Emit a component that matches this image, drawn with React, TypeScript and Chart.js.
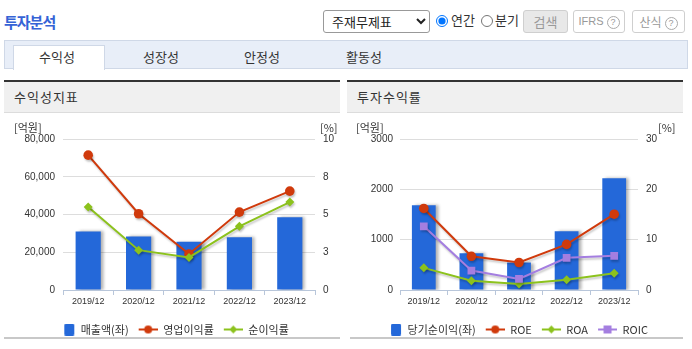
import React, { useEffect, useRef } from 'react';
import { Chart, registerables } from 'chart.js';

Chart.register(...registerables);

// ---- data ----
const years = ['2019/12', '2020/12', '2021/12', '2022/12', '2023/12'];
const sales = [31000, 28400, 25600, 27900, 38500];
const opMargin = [8.93, 5.05, 2.38, 5.16, 6.55];
const netMargin = [5.49, 2.64, 2.16, 4.22, 5.82];
const netIncome = [1686, 732, 546, 1166, 2220];
const roe = [16.2, 6.7, 5.46, 9.06, 15.06];
const roa = [4.4, 1.86, 1.2, 2.06, 3.32];
const roic = [12.66, 3.86, 2.2, 6.4, 6.8];

const salesTicks = ['0', '20,000', '40,000', '60,000', '80,000'];
const marginTicks = ['0', '3', '5', '8', '10'];
const incomeTicks = ['0', '1000', '2000', '3000'];
const returnTicks = ['0', '10', '20', '30'];

const tabs = ['수익성', '성장성', '안정성', '활동성'];

const BLUE = '#2468d9';
const RED = '#d03a0c';
const GREEN = '#8cc21d';
const PURPLE = '#a47ee0';
const KFONT = '"Noto Sans CJK KR", "Noto Sans", sans-serif';
const NFONT = '"Liberation Sans", Arial, sans-serif';

function markerImg(color: string, style: string): HTMLCanvasElement {
  const c = document.createElement('canvas');
  c.width = 20;
  c.height = 12;
  const x = c.getContext('2d')!;
  x.fillStyle = color;
  x.strokeStyle = color;
  if (style === 'bar') {
    x.beginPath();
    (x as any).roundRect(9, 0, 10, 12, 1.5);
    x.fill();
    return c;
  }
  x.lineWidth = 2;
  x.beginPath();
  x.moveTo(1, 6);
  x.lineTo(20, 6);
  x.stroke();
  x.beginPath();
  if (style === 'circle') {
    x.arc(10.5, 6, 4, 0, Math.PI * 2);
  } else if (style === 'diamond') {
    x.moveTo(10.5, 2);
    x.lineTo(14.5, 6);
    x.lineTo(10.5, 10);
    x.lineTo(6.5, 6);
    x.closePath();
  } else {
    x.rect(6.5, 2, 8, 8);
  }
  x.fill();
  return c;
}

const shadowPlugin = {
  id: 'shadowPlugin',
  beforeDatasetDraw(chart: any, args: any) {
    const ctx = chart.ctx;
    ctx.save();
    if (args.meta.type === 'bar') {
      ctx.shadowColor = 'rgba(0,0,0,0.3)';
      ctx.shadowBlur = 3;
      ctx.shadowOffsetX = 3;
      ctx.shadowOffsetY = 0;
    } else {
      ctx.shadowColor = 'rgba(0,0,0,0.22)';
      ctx.shadowBlur = 2;
      ctx.shadowOffsetX = 1;
      ctx.shadowOffsetY = 2;
    }
  },
  afterDatasetDraw(chart: any) {
    chart.ctx.restore();
  },
};

type LineDef = { label: string; data: number[]; color: string; style: string; order: number };

function makeConfig(
  barLabel: string,
  barData: number[],
  lines: LineDef[],
  leftMax: number,
  leftTicks: string[],
  rightMax: number,
  rightTicks: string[],
  leftWidth: number,
  rightWidth: number,
  leftPad: number
): any {
  const leftStep = leftMax / (leftTicks.length - 1);
  const rightStep = rightMax / (rightTicks.length - 1);
  const images: Record<string, HTMLCanvasElement> = {};
  images[barLabel] = markerImg(BLUE, 'bar');
  lines.forEach((l) => (images[l.label] = markerImg(l.color, l.style)));
  const ptStyle = (s: string) => (s === 'circle' ? 'circle' : s === 'diamond' ? 'rectRot' : 'rect');
  return {
    type: 'bar',
    data: {
      labels: years,
      datasets: [
        {
          type: 'bar',
          label: barLabel,
          data: barData,
          backgroundColor: BLUE,
          borderWidth: 0,
          barPercentage: 0.5,
          categoryPercentage: 1,
          yAxisID: 'y',
          order: 5,
        },
        ...lines.map((l) => ({
          type: 'line',
          label: l.label,
          data: l.data,
          borderColor: l.color,
          backgroundColor: l.color,
          borderWidth: 2,
          pointStyle: ptStyle(l.style),
          pointRadius: l.style === 'circle' ? 4.8 : l.style === 'diamond' ? 4.5 : 5.5,
          pointBorderWidth: 0,
          tension: 0,
          yAxisID: 'y1',
          order: l.order,
        })),
      ],
    },
    options: {
      animation: false,
      responsive: false,
      maintainAspectRatio: false,
      layout: { padding: { top: 26, left: 0, right: 0, bottom: 0 } },
      plugins: {
        tooltip: { enabled: false },
        legend: {
          position: 'bottom',
          labels: {
            usePointStyle: true,
            pointStyleWidth: 20,
            boxHeight: 12,
            padding: 9,
            color: '#333',
            font: { family: KFONT, size: 11 },
            generateLabels: (chart: any) =>
              chart.data.datasets.map((d: any, i: number) => ({
                text: d.label,
                pointStyle: images[d.label],
                fillStyle: 'transparent',
                strokeStyle: 'transparent',
                lineWidth: 0,
                fontColor: '#333',
                hidden: false,
                datasetIndex: i,
              })),
          },
        },
      },
      scales: {
        x: {
          offset: true,
          grid: {
            display: true,
            drawOnChartArea: false,
            drawTicks: true,
            tickLength: 5,
            color: '#b8c6da',
            offset: true,
          },
          border: { display: true, color: '#b8c6da', width: 1 },
          ticks: { color: '#333', font: { family: NFONT, size: 9 }, padding: 1, maxRotation: 0 },
          afterFit: (s: any) => {
            s.height = 25;
          },
        },
        y: {
          position: 'left',
          min: 0,
          max: leftMax,
          grid: { color: '#dddddd', drawTicks: false, lineWidth: 1 },
          border: { display: false },
          ticks: {
            stepSize: leftStep,
            padding: leftPad,
            color: '#333',
            font: { family: NFONT, size: 10 },
            callback: (v: number) => leftTicks[Math.round(v / leftStep)],
          },
          afterFit: (s: any) => {
            s.width = leftWidth;
          },
        },
        y1: {
          position: 'right',
          min: 0,
          max: rightMax,
          grid: { display: false, drawTicks: false },
          border: { display: false },
          ticks: {
            stepSize: rightStep,
            padding: 8,
            color: '#333',
            font: { family: NFONT, size: 10 },
            callback: (v: number) => rightTicks[Math.round(v / rightStep)],
          },
          afterFit: (s: any) => {
            s.width = rightWidth;
          },
        },
      },
    },
    plugins: [shadowPlugin],
  };
}

function ChartCanvas({ config, left }: { config: () => any; left: number }) {
  const ref = useRef<HTMLCanvasElement>(null);
  useEffect(() => {
    const chart = new Chart(ref.current!, config());
    return () => chart.destroy();
  }, []);
  return (
    <canvas
      ref={ref}
      width={336}
      height={232}
      style={{ position: 'absolute', left, top: 113, width: 336, height: 232 }}
    />
  );
}

const abs = (s: React.CSSProperties): React.CSSProperties => ({ position: 'absolute', ...s });

function QIcon() {
  return (
    <span
      style={{
        display: 'inline-block',
        width: 13,
        height: 13,
        borderRadius: 7,
        border: '1px solid #aaa',
        boxSizing: 'border-box',
        fontSize: 9,
        lineHeight: '11px',
        textAlign: 'center',
        color: '#999',
        marginLeft: 3,
        verticalAlign: 'middle',
        fontFamily: NFONT,
      }}
    >
      ?
    </span>
  );
}

function Panel({ left, title }: { left: number; title: string }) {
  return (
    <>
      <div style={abs({ left, top: 80, width: 336, height: 2, background: '#333' })} />
      <div
        style={abs({
          left,
          top: 82,
          width: 336,
          height: 30,
          background: '#f0f0f0',
          borderBottom: '1px solid #dcdcdc',
        })}
      />
      <div
        style={abs({
          left: left + 10,
          top: 88,
          fontSize: 13,
          lineHeight: '18px',
          color: '#333',
          fontFamily: KFONT,
          letterSpacing: 1,
        })}
      >
        {title}
      </div>
    </>
  );
}

export default function App() {
  const leftCfg = () =>
    makeConfig(
      '매출액(좌)',
      sales,
      [
        { label: '영업이익률', data: opMargin, color: RED, style: 'circle', order: 3 },
        { label: '순이익률', data: netMargin, color: GREEN, style: 'diamond', order: 2 },
      ],
      80000,
      salesTicks,
      10,
      marginTicks,
      59,
      25,
      8
    );
  const rightCfg = () =>
    makeConfig(
      '당기순이익(좌)',
      netIncome,
      [
        { label: 'ROE', data: roe, color: RED, style: 'circle', order: 3 },
        { label: 'ROA', data: roa, color: GREEN, style: 'diamond', order: 2 },
        { label: 'ROIC', data: roic, color: PURPLE, style: 'square', order: 1 },
      ],
      3000,
      incomeTicks,
      30,
      returnTicks,
      53,
      45,
      7
    );
  const tabCenters = [57, 161, 262, 364];
  const small: React.CSSProperties = { fontSize: 11, color: '#333', fontFamily: KFONT, lineHeight: '12px' };
  return (
    <div
      style={{
        position: 'absolute',
        left: 0,
        top: 0,
        width: 692,
        height: 349,
        background: '#fff',
        fontFamily: KFONT,
        overflow: 'hidden',
      }}
    >
      <div
        style={abs({
          left: 4,
          top: 12,
          fontSize: 15,
          fontWeight: 'bold',
          color: '#3563d6',
          letterSpacing: -1,
          lineHeight: '20px',
        })}
      >
        투자분석
      </div>
      <select
        defaultValue="a"
        style={abs({
          left: 323,
          top: 10,
          width: 107,
          height: 23,
          fontSize: 13,
          fontFamily: KFONT,
          border: '1px solid #999',
          borderRadius: 3,
          background: '#fff',
          color: '#222',
          paddingLeft: 4,
        })}
      >
        <option value="a">주재무제표</option>
      </select>
      <input type="radio" name="p" defaultChecked style={abs({ left: 436, top: 15, width: 12, height: 12, margin: 0 })} />
      <div style={abs({ left: 451, top: 11, fontSize: 13, color: '#333', lineHeight: '18px' })}>연간</div>
      <input type="radio" name="p" style={abs({ left: 481, top: 15, width: 12, height: 12, margin: 0 })} />
      <div style={abs({ left: 495, top: 11, fontSize: 13, color: '#333', lineHeight: '18px' })}>분기</div>
      <div
        style={abs({
          left: 523,
          top: 10,
          width: 45,
          height: 23,
          boxSizing: 'border-box',
          background: '#e8e8e8',
          border: '1px solid #cfcfcf',
          borderRadius: 3,
          fontSize: 13,
          color: '#999',
          textAlign: 'center',
          lineHeight: '21px',
        })}
      >
        검색
      </div>
      <div
        style={abs({
          left: 573,
          top: 10,
          width: 52,
          height: 23,
          boxSizing: 'border-box',
          background: '#fff',
          border: '1px solid #cfcfcf',
          borderRadius: 3,
          fontSize: 11,
          color: '#999',
          textAlign: 'center',
          lineHeight: '21px',
          fontFamily: NFONT,
        })}
      >
        IFRS
        <QIcon />
      </div>
      <div
        style={abs({
          left: 632,
          top: 10,
          width: 53,
          height: 23,
          boxSizing: 'border-box',
          background: '#fff',
          border: '1px solid #cfcfcf',
          borderRadius: 3,
          fontSize: 12,
          color: '#999',
          textAlign: 'center',
          lineHeight: '21px',
        })}
      >
        산식
        <QIcon />
      </div>

      <div
        style={abs({
          left: 4,
          top: 40,
          width: 684,
          height: 29,
          boxSizing: 'border-box',
          background: '#e8eef8',
          border: '1px solid #cfd8e7',
        })}
      />
      <div
        style={abs({
          left: 13,
          top: 45,
          width: 92,
          height: 25,
          boxSizing: 'border-box',
          background: '#fff',
          border: '1px solid #cfd8e7',
          borderBottom: 'none',
        })}
      />
      {tabs.map((t, i) => (
        <div
          key={t}
          style={abs({
            left: tabCenters[i] - 40,
            width: 80,
            top: 48,
            textAlign: 'center',
            fontSize: 13,
            color: '#333',
            lineHeight: '18px',
          })}
        >
          {t}
        </div>
      ))}

      <Panel left={4} title="수익성지표" />
      <Panel left={347} title="투자수익률" />

      <ChartCanvas config={leftCfg} left={4} />
      <ChartCanvas config={rightCfg} left={347} />

      <div style={abs({ left: 14, top: 121, ...small })}>[억원]</div>
      <div style={abs({ left: 320, top: 121, ...small })}>[%]</div>
      <div style={abs({ left: 356, top: 121, ...small })}>[억원]</div>
      <div style={abs({ left: 658, top: 121, ...small })}>[%]</div>

      <div style={abs({ left: 4, top: 337, width: 336, height: 2, background: '#c8c8c8' })} />
      <div style={abs({ left: 350, top: 337, width: 333, height: 2, background: '#c8c8c8' })} />
    </div>
  );
}
